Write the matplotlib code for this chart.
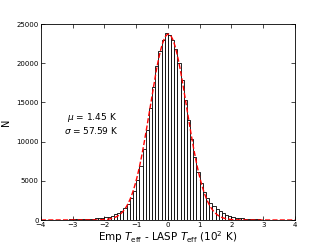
import numpy as np
import matplotlib
matplotlib.use("Agg")
import matplotlib.pyplot as plt

# Histogram bin edges (10^2 K) and counts
bin_edges = np.round(np.arange(-4.0, 4.0001, 0.1), 2)
counts = [10, 12, 15, 18, 22, 28, 35, 45, 55, 70,
          85, 95, 110, 125, 140, 160, 185, 215, 250, 300,
          360, 440, 560, 720, 930, 1200, 1550, 2050, 2750, 3700,
          5100, 6900, 9000, 11500, 14300, 17000, 19600, 21600, 23000, 23800,
          23600, 23000, 21800, 20000, 17800, 15300, 12800, 10300, 8000, 6100,
          4700, 3600, 2800, 2200, 1750, 1400, 1100, 850, 650, 500,
          400, 320, 260, 210, 170, 140, 115, 95, 80, 65,
          55, 45, 38, 32, 27, 22, 18, 15, 12, 10]

# Gaussian fit parameters
mu = 1.45      # K
sigma = 57.59  # K
amp = 23700

centers = (bin_edges[:-1] + bin_edges[1:]) / 2

fig = plt.figure(figsize=(3.27, 2.45), dpi=100)
ax = fig.add_axes([0.125, 0.102, 0.777, 0.8])

ax.hist(centers, bins=bin_edges, weights=counts, histtype='bar',
        facecolor='white', edgecolor='black', linewidth=0.6)

xf = np.linspace(-4, 4, 400)
m, s = mu / 100, sigma / 100
ax.plot(xf, amp * np.exp(-(xf - m) ** 2 / (2 * s ** 2)), 'r--', lw=1.0)

ax.set_xlim(-4, 4)
ax.set_ylim(0, 25000)
ax.set_xticks(range(-4, 5))
ax.set_yticks(range(0, 25001, 5000))
ax.tick_params(direction='in', top=True, right=True, labelsize=5, length=3, width=0.5, pad=1.5)
for sp in ax.spines.values():
    sp.set_linewidth(0.6)

ax.text(-2.4, 12300, "$\\mu$ = 1.45 K\n$\\sigma$ = 57.59 K", ha='center', va='center',
        fontsize=6.5, linespacing=1.2)

ax.set_xlabel("Emp $T_{\\rm eff}$ - LASP $T_{\\rm eff}$ (10$^2$ K)", fontsize=7.5, labelpad=0.5)
ax.set_ylabel("N", fontsize=7, labelpad=4)

fig.savefig("out.png", dpi=100)
